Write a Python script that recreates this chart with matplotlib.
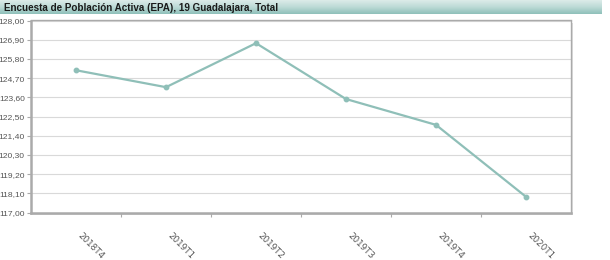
import numpy as np
import matplotlib.pyplot as plt
from matplotlib.colors import LinearSegmentedColormap
from matplotlib.patches import Rectangle

# datos
periodos = ['2018T4', '2019T1', '2019T2', '2019T3', '2019T4', '2020T1']
valores = [125.15, 124.18, 126.70, 123.50, 122.02, 117.90]
ticks_y = [117.0, 118.1, 119.2, 120.3, 121.4, 122.5, 123.6, 124.7, 125.8, 126.9, 128.0]
titulo = 'Encuesta de Población Activa (EPA), 19 Guadalajara, Total'

W, H = 610, 260
fig = plt.figure(figsize=(W / 100, H / 100), dpi=100)
fig.patch.set_facecolor('white')

# cabecera con degradado
hax = fig.add_axes([0, 1 - 14 / H, 602 / W, 14 / H])
cmap = LinearSegmentedColormap.from_list('cab', ['#dcebe9', '#bcdad6', '#8fc0ba'])
grad = np.linspace(0, 1, 50).reshape(-1, 1)
hax.imshow(grad, aspect='auto', cmap=cmap, extent=[0, 1, 0, 1])
hax.set_axis_off()
hax.text(0.007, 0.45, titulo, transform=hax.transAxes, fontsize=7.1, fontweight='bold',
         family='Liberation Sans', color='#1a1a1a', va='center', ha='left')

# area del grafico
x0, x1 = 31 / W, 571 / W
y0, y1 = 1 - 212.5 / H, 1 - 20.5 / H
ax = fig.add_axes([x0, y0, x1 - x0, y1 - y0])

# sombra
sombra = Rectangle((x0 + 2 / W, y0 - 2 / H), x1 - x0, y1 - y0, transform=fig.transFigure,
                   facecolor='#dddddd', edgecolor='none', zorder=-1)
fig.patches.append(sombra)

x = np.arange(len(periodos))
ax.plot(x, valores, '-o', color='#8fbfb8', lw=1.6, ms=3.2, mfc='#8fbfb8', mec='#8fbfb8')

ax.set_xlim(-0.5, len(periodos) - 0.5)
ax.set_ylim(117, 128)
ax.set_yticks(ticks_y)
ax.set_yticklabels([f'{v:.2f}'.replace('.', ',') for v in ticks_y], fontsize=6.1,
                   color='#555555', family='Liberation Sans')
ax.grid(axis='y', color='#d9d9d9', lw=0.8)
ax.set_axisbelow(True)

ax.set_xticks(x)
ax.set_xticklabels(periodos, rotation=-45, ha='left', va='top', fontsize=6.3,
                   color='#555555')
ax.tick_params(axis='x', length=0, pad=13)
ax.set_xticks(np.arange(0.5, len(periodos) - 0.5, 1), minor=True)
ax.tick_params(axis='x', which='minor', length=3, color='#aaaaaa', width=0.8)
ax.tick_params(axis='y', length=3, color='#aaaaaa', width=0.8, pad=1.5)

for lado in ['left', 'bottom', 'top', 'right']:
    ax.spines[lado].set_color('#aaaaaa')
    ax.spines[lado].set_linewidth(1.0)
ax.spines['left'].set_linewidth(1.8)
ax.spines['bottom'].set_linewidth(1.8)

fig.savefig('out.png', dpi=100)
